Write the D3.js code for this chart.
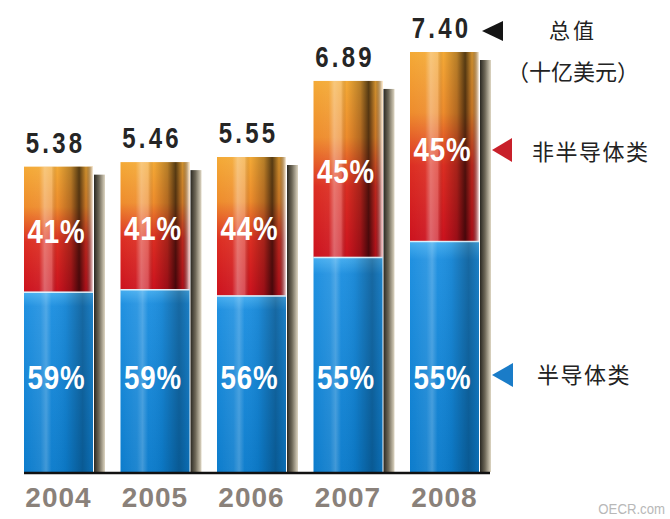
<!DOCTYPE html>
<html>
<head>
<meta charset="utf-8">
<script src="https://cdn.jsdelivr.net/npm/d3@7"></script>
<style>
  body { margin: 0; background: #fff; }
  svg { display: block; }
</style>
</head>
<body>
<main></main>
<script>
const years = ["2004", "2005", "2006", "2007", "2008"];
const totals = [5.38, 5.46, 5.55, 6.89, 7.40];
const semiShare = [59, 59, 56, 55, 55];
const nonSemiShare = [41, 41, 44, 45, 45];
const totalLabels = ["5.38", "5.46", "5.55", "6.89", "7.40"];

const w = 670;
const h = 519;

const data = years.map((year, i) => ({
  year,
  total: totals[i],
  semi: totals[i] * semiShare[i] / 100,
  semiPct: semiShare[i],
  nonPct: nonSemiShare[i],
  label: totalLabels[i]
}));

const x = d3.scaleBand()
  .domain(years)
  .range([24, 479])
  .paddingInner(0.285)
  .paddingOuter(0);

const y = d3.scaleLinear()
  .domain([0, 7.4])
  .range([472, 52]);

const svg = d3.select("main")
  .append("svg")
  .attr("width", w)
  .attr("height", h);

const defs = svg.append("defs");

function gradient(id, horizontal, stops) {
  const g = defs.append("linearGradient")
    .attr("id", id)
    .attr("x1", 0).attr("y1", 0)
    .attr("x2", horizontal ? 1 : 0)
    .attr("y2", horizontal ? 0 : 1);
  stops.forEach(s => {
    g.append("stop")
      .attr("offset", s[0])
      .attr("stop-color", s[1])
      .attr("stop-opacity", s[2] === undefined ? 1 : s[2]);
  });
}

gradient("gRed", false, [
  [0, "#f4aa36"], [0.32, "#ee8c2c"], [0.6, "#dc2e22"], [1, "#cc121e"]
]);
gradient("gBlue", false, [
  [0, "#46aef0"], [0.08, "#1f90e0"], [1, "#0c7ccc"]
]);
gradient("gShadeRed", true, [
  [0, "#fff", 0], [0.22, "#fff", 0.05], [0.3, "#fff", 0.35], [0.4, "#fff", 0.25],
  [0.48, "#000", 0], [0.68, "#000", 0.25], [0.8, "#000", 0.65],
  [0.9, "#000", 0.15], [1, "#fff", 0.85]
]);
gradient("gShadeBlue", true, [
  [0, "#fff", 0], [0.24, "#fff", 0.08], [0.32, "#fff", 0.22], [0.4, "#fff", 0.02],
  [0.6, "#000", 0.05], [0.85, "#000", 0.28], [1, "#000", 0.12]
]);
gradient("gShadow", true, [
  [0, "#2a2822"], [0.45, "#6e6858"], [1, "#ded6c2"]
]);

const bars = svg.append("g")
  .selectAll("g")
  .data(data)
  .enter()
  .append("g");

// shadow behind each bar
bars.append("rect")
  .attr("x", d => x(d.year) + x.bandwidth() + 1)
  .attr("y", d => y(d.total) + 8)
  .attr("width", 11)
  .attr("height", d => y(0) - y(d.total) - 8)
  .attr("fill", "url(#gShadow)");

// non-semiconductor part
bars.append("rect")
  .attr("x", d => x(d.year))
  .attr("y", d => y(d.total))
  .attr("width", x.bandwidth())
  .attr("height", d => y(d.semi) - y(d.total))
  .attr("fill", "url(#gRed)");
bars.append("rect")
  .attr("x", d => x(d.year))
  .attr("y", d => y(d.total))
  .attr("width", x.bandwidth())
  .attr("height", d => y(d.semi) - y(d.total))
  .attr("fill", "url(#gShadeRed)");

// semiconductor part
bars.append("rect")
  .attr("x", d => x(d.year))
  .attr("y", d => y(d.semi))
  .attr("width", x.bandwidth())
  .attr("height", d => y(0) - y(d.semi))
  .attr("fill", "url(#gBlue)");
bars.append("rect")
  .attr("x", d => x(d.year))
  .attr("y", d => y(d.semi))
  .attr("width", x.bandwidth())
  .attr("height", d => y(0) - y(d.semi))
  .attr("fill", "url(#gShadeBlue)");

bars.append("line")
  .attr("x1", d => x(d.year))
  .attr("x2", d => x(d.year) + x.bandwidth())
  .attr("y1", d => y(d.semi) + 0.5)
  .attr("y2", d => y(d.semi) + 0.5)
  .attr("stroke", "#fff")
  .attr("stroke-opacity", 0.8)
  .attr("stroke-width", 1.5);

// baseline
svg.append("line")
  .attr("x1", x(years[0]))
  .attr("x2", x(years[4]) + x.bandwidth() + 11)
  .attr("y1", y(0) + 1)
  .attr("y2", y(0) + 1)
  .attr("stroke", "#111")
  .attr("stroke-width", 2.5);

// condensed bold text, squeezed horizontally
const sans = "'Liberation Sans', Arial, sans-serif";
function narrowText(sel, fx, fy, size, squeeze, spacing, color, txt) {
  sel.append("text")
    .attr("transform", d => `translate(${fx(d)},${fy(d)}) scale(${squeeze},1)`)
    .attr("text-anchor", "middle")
    .attr("font-family", sans)
    .attr("font-weight", "bold")
    .attr("font-size", size)
    .attr("letter-spacing", spacing)
    .attr("fill", color)
    .text(txt);
}

// total values
narrowText(bars,
  d => x(d.year) + x.bandwidth() / 2 - 3,
  d => y(d.total) - 14,
  30, 0.8, 4, "#252525", d => d.label);

// percentages
narrowText(bars,
  d => x(d.year) + x.bandwidth() / 2 - 2,
  d => (y(d.total) + y(d.semi)) / 2 + 14,
  33, 0.84, 1, "#fff", d => d.nonPct + "%");

narrowText(bars,
  d => x(d.year) + x.bandwidth() / 2 - 2,
  d => 389,
  33, 0.84, 1, "#fff", d => d.semiPct + "%");

// year labels
bars.append("text")
  .attr("x", d => x(d.year) + x.bandwidth() / 2)
  .attr("y", 507)
  .attr("text-anchor", "middle")
  .attr("font-family", sans)
  .attr("font-weight", "bold")
  .attr("font-size", 28)
  .attr("letter-spacing", 1)
  .attr("fill", "#8a817a")
  .text(d => d.year);

// legend
const cjk = "'Noto Sans CJK SC', sans-serif";
const legend = svg.append("g");

legend.append("path")
  .attr("d", "M482,31L503,21L503,41Z")
  .attr("fill", "#151515");
legend.append("text")
  .attr("x", 573).attr("y", 38)
  .attr("text-anchor", "middle")
  .attr("font-family", cjk).attr("font-size", 21)
  .attr("letter-spacing", 3)
  .attr("fill", "#222")
  .text("总值");
legend.append("text")
  .attr("x", 573).attr("y", 80)
  .attr("text-anchor", "middle")
  .attr("font-family", cjk).attr("font-size", 22)
  .attr("fill", "#222")
  .text("（十亿美元）");

legend.append("path")
  .attr("d", "M492,150L512,138L512,162Z")
  .attr("fill", "#c8202a");
legend.append("text")
  .attr("x", 532).attr("y", 160)
  .attr("font-family", cjk).attr("font-size", 22)
  .attr("letter-spacing", 1.5)
  .attr("fill", "#222")
  .text("非半导体类");

legend.append("path")
  .attr("d", "M492,375L513,363L513,387Z")
  .attr("fill", "#1a7cc8");
legend.append("text")
  .attr("x", 537).attr("y", 383)
  .attr("font-family", cjk).attr("font-size", 22)
  .attr("letter-spacing", 1.5)
  .attr("fill", "#222")
  .text("半导体类");

svg.append("text")
  .attr("transform", "translate(665,514) scale(0.88,1)")
  .attr("text-anchor", "end")
  .attr("font-family", sans)
  .attr("font-size", 15)
  .attr("fill", "#b8b8b8")
  .text("OECR.com");
</script>
</body>
</html>
